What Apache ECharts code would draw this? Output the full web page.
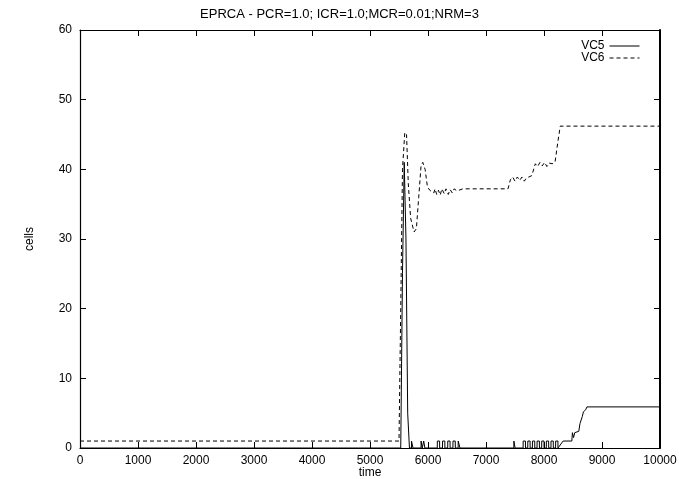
<!DOCTYPE html>
<html>
<head>
<meta charset="utf-8">
<script src="https://cdn.jsdelivr.net/npm/echarts@6/dist/echarts.min.js"></script>
<style>
  html, body { margin: 0; padding: 0; background: #fff; }
  #chart { width: 679px; height: 479px; }
</style>
</head>
<body>
<div id="chart"></div>
<script>
// time / cells
const vc5Time = [0, 5530, 5560, 5590, 5620, 5650, 5680, 5715, 5716, 5740, 5741,
  5880, 5881, 5900, 5901, 5925, 5926, 5945, 5946,
  6160, 6161, 6200, 6201, 6250, 6251, 6290, 6291, 6340, 6341, 6380, 6381, 6430, 6431, 6470, 6471, 6520, 6521, 6550, 6551,
  7480, 7481, 7500, 7501, 7640, 7641, 7680, 7681, 7720, 7721, 7760, 7761, 7800, 7801, 7840, 7841, 7880, 7881, 7920, 7921,
  7960, 7961, 8000, 8001, 8040, 8041, 8080, 8081, 8120, 8121, 8160, 8161, 8200, 8201, 8240, 8241, 8330,
  8480, 8490, 8510, 8530, 8600, 8620, 8660, 8680, 8720, 8740, 10000]
const vc5Cells = [0, 0, 25, 41, 30, 5, 0, 0, 1, 1, 0,
  0, 1, 1, 0, 0, 1, 1, 0,
  0, 1, 1, 0, 0, 1, 1, 0, 0, 1, 1, 0, 0, 1, 1, 0, 0, 1, 1, 0,
  0, 1, 1, 0, 0, 1, 1, 0, 0, 1, 1, 0, 0, 1, 1, 0, 0, 1, 1, 0,
  0, 1, 1, 0, 0, 1, 1, 0, 0, 1, 1, 0, 0, 1, 1, 0, 1,
  1, 2.2, 1.5, 2.2, 2.4, 3.5, 4.5, 5.2, 5.5, 5.9, 5.9]

const vc6Time = [0, 5500, 5530, 5560, 5600, 5630, 5660, 5700, 5760, 5800, 5840, 5880, 5910, 5950, 5990, 6030,
  6100, 6120, 6150, 6180, 6210, 6240, 6280, 6310, 6350, 6380, 6420, 6450, 6500, 6600, 7380,
  7420, 7460, 7500, 7540, 7580, 7620, 7660, 7700, 7740, 7790, 7820,
  7850, 7890, 7930, 7970, 8010, 8050, 8090, 8140, 8190, 8240, 8280, 8310, 10000]
const vc6Cells = [1, 1, 20, 40, 45.3, 45, 38, 33, 31, 31.5, 36, 40.5, 41, 40, 37.5, 37,
  36.6, 37.2, 36.4, 37, 36.3, 37.2, 36.5, 37.2, 36.4, 37.1, 36.6, 37.2, 36.9, 37.2, 37.2,
  38.5, 38.9, 38.3, 38.9, 38.4, 38.9, 38.3, 38.8, 38.9, 39.1, 39.2,
  40.8, 40.4, 41, 40.5, 41, 40.4, 40.9, 40.8, 41, 44, 46.2, 46.2, 46.2]

const xTicks = [0, 10000, 1000]
const yTicks = [0, 60, 10]

const pair = (xs, ys) => xs.map((x, i) => [x, ys[i]])

const chart = echarts.init(document.getElementById('chart'))
const font = 'Liberation Sans'
const tick = { show: true, inside: true, length: 6, lineStyle: { color: '#000' } }
const line = { show: true, onZero: false, lineStyle: { color: '#000', width: 1.2 } }

chart.setOption({
  animation: false,
  textStyle: { fontFamily: font, color: '#000' },
  title: {
    text: 'EPRCA - PCR=1.0; ICR=1.0;MCR=0.01;NRM=3',
    left: 'center', top: 3,
    textStyle: { fontFamily: font, fontSize: 13, fontWeight: 'normal', color: '#000' }
  },
  legend: {
    orient: 'vertical', right: 34, top: 35,
    align: 'right', itemWidth: 30, itemHeight: 8, itemGap: 0,
    itemStyle: { color: 'transparent', borderWidth: 0 },
    lineStyle: { width: 1 },
    textStyle: { fontFamily: font, fontSize: 12, lineHeight: 10, color: '#000' },
    data: ['VC5', 'VC6']
  },
  grid: { left: 80, right: 19, top: 30, bottom: 31, outerBoundsMode: 'none' },
  xAxis: [
    {
      type: 'value', min: xTicks[0], max: xTicks[1], interval: xTicks[2],
      name: 'time', nameLocation: 'middle', nameGap: 19, nameMoveOverlap: false,
      nameTextStyle: { fontFamily: font, fontSize: 12, color: '#000' },
      axisLine: line, axisTick: tick, splitLine: { show: false },
      axisLabel: { fontFamily: font, fontSize: 12, color: '#000', margin: 7, formatter: v => String(v) }
    },
    {
      type: 'value', position: 'top', min: xTicks[0], max: xTicks[1], interval: xTicks[2],
      axisLine: line, axisTick: tick, splitLine: { show: false }, axisLabel: { show: false }
    }
  ],
  yAxis: [
    {
      type: 'value', min: yTicks[0], max: yTicks[1], interval: yTicks[2],
      name: 'cells', nameLocation: 'middle', nameGap: 44,
      nameTextStyle: { fontFamily: font, fontSize: 12, color: '#000' },
      axisLine: line, axisTick: tick, splitLine: { show: false },
      axisLabel: { fontFamily: font, fontSize: 12, color: '#000', margin: 8 }
    },
    {
      type: 'value', position: 'right', min: yTicks[0], max: yTicks[1], interval: yTicks[2],
      axisLine: { show: true, onZero: false, lineStyle: { color: '#000', width: 2 } },
      axisTick: tick, splitLine: { show: false }, axisLabel: { show: false }
    }
  ],
  series: [
    {
      name: 'VC5', type: 'line', symbol: 'none', data: pair(vc5Time, vc5Cells),
      lineStyle: { color: '#000', width: 1 }, itemStyle: { color: '#000' }
    },
    {
      name: 'VC6', type: 'line', symbol: 'none', data: pair(vc6Time, vc6Cells),
      lineStyle: { color: '#000', width: 1, type: [4, 3] }, itemStyle: { color: '#000' }
    }
  ]
})
window.addEventListener('resize', () => { chart.resize() })
</script>
</body>
</html>
